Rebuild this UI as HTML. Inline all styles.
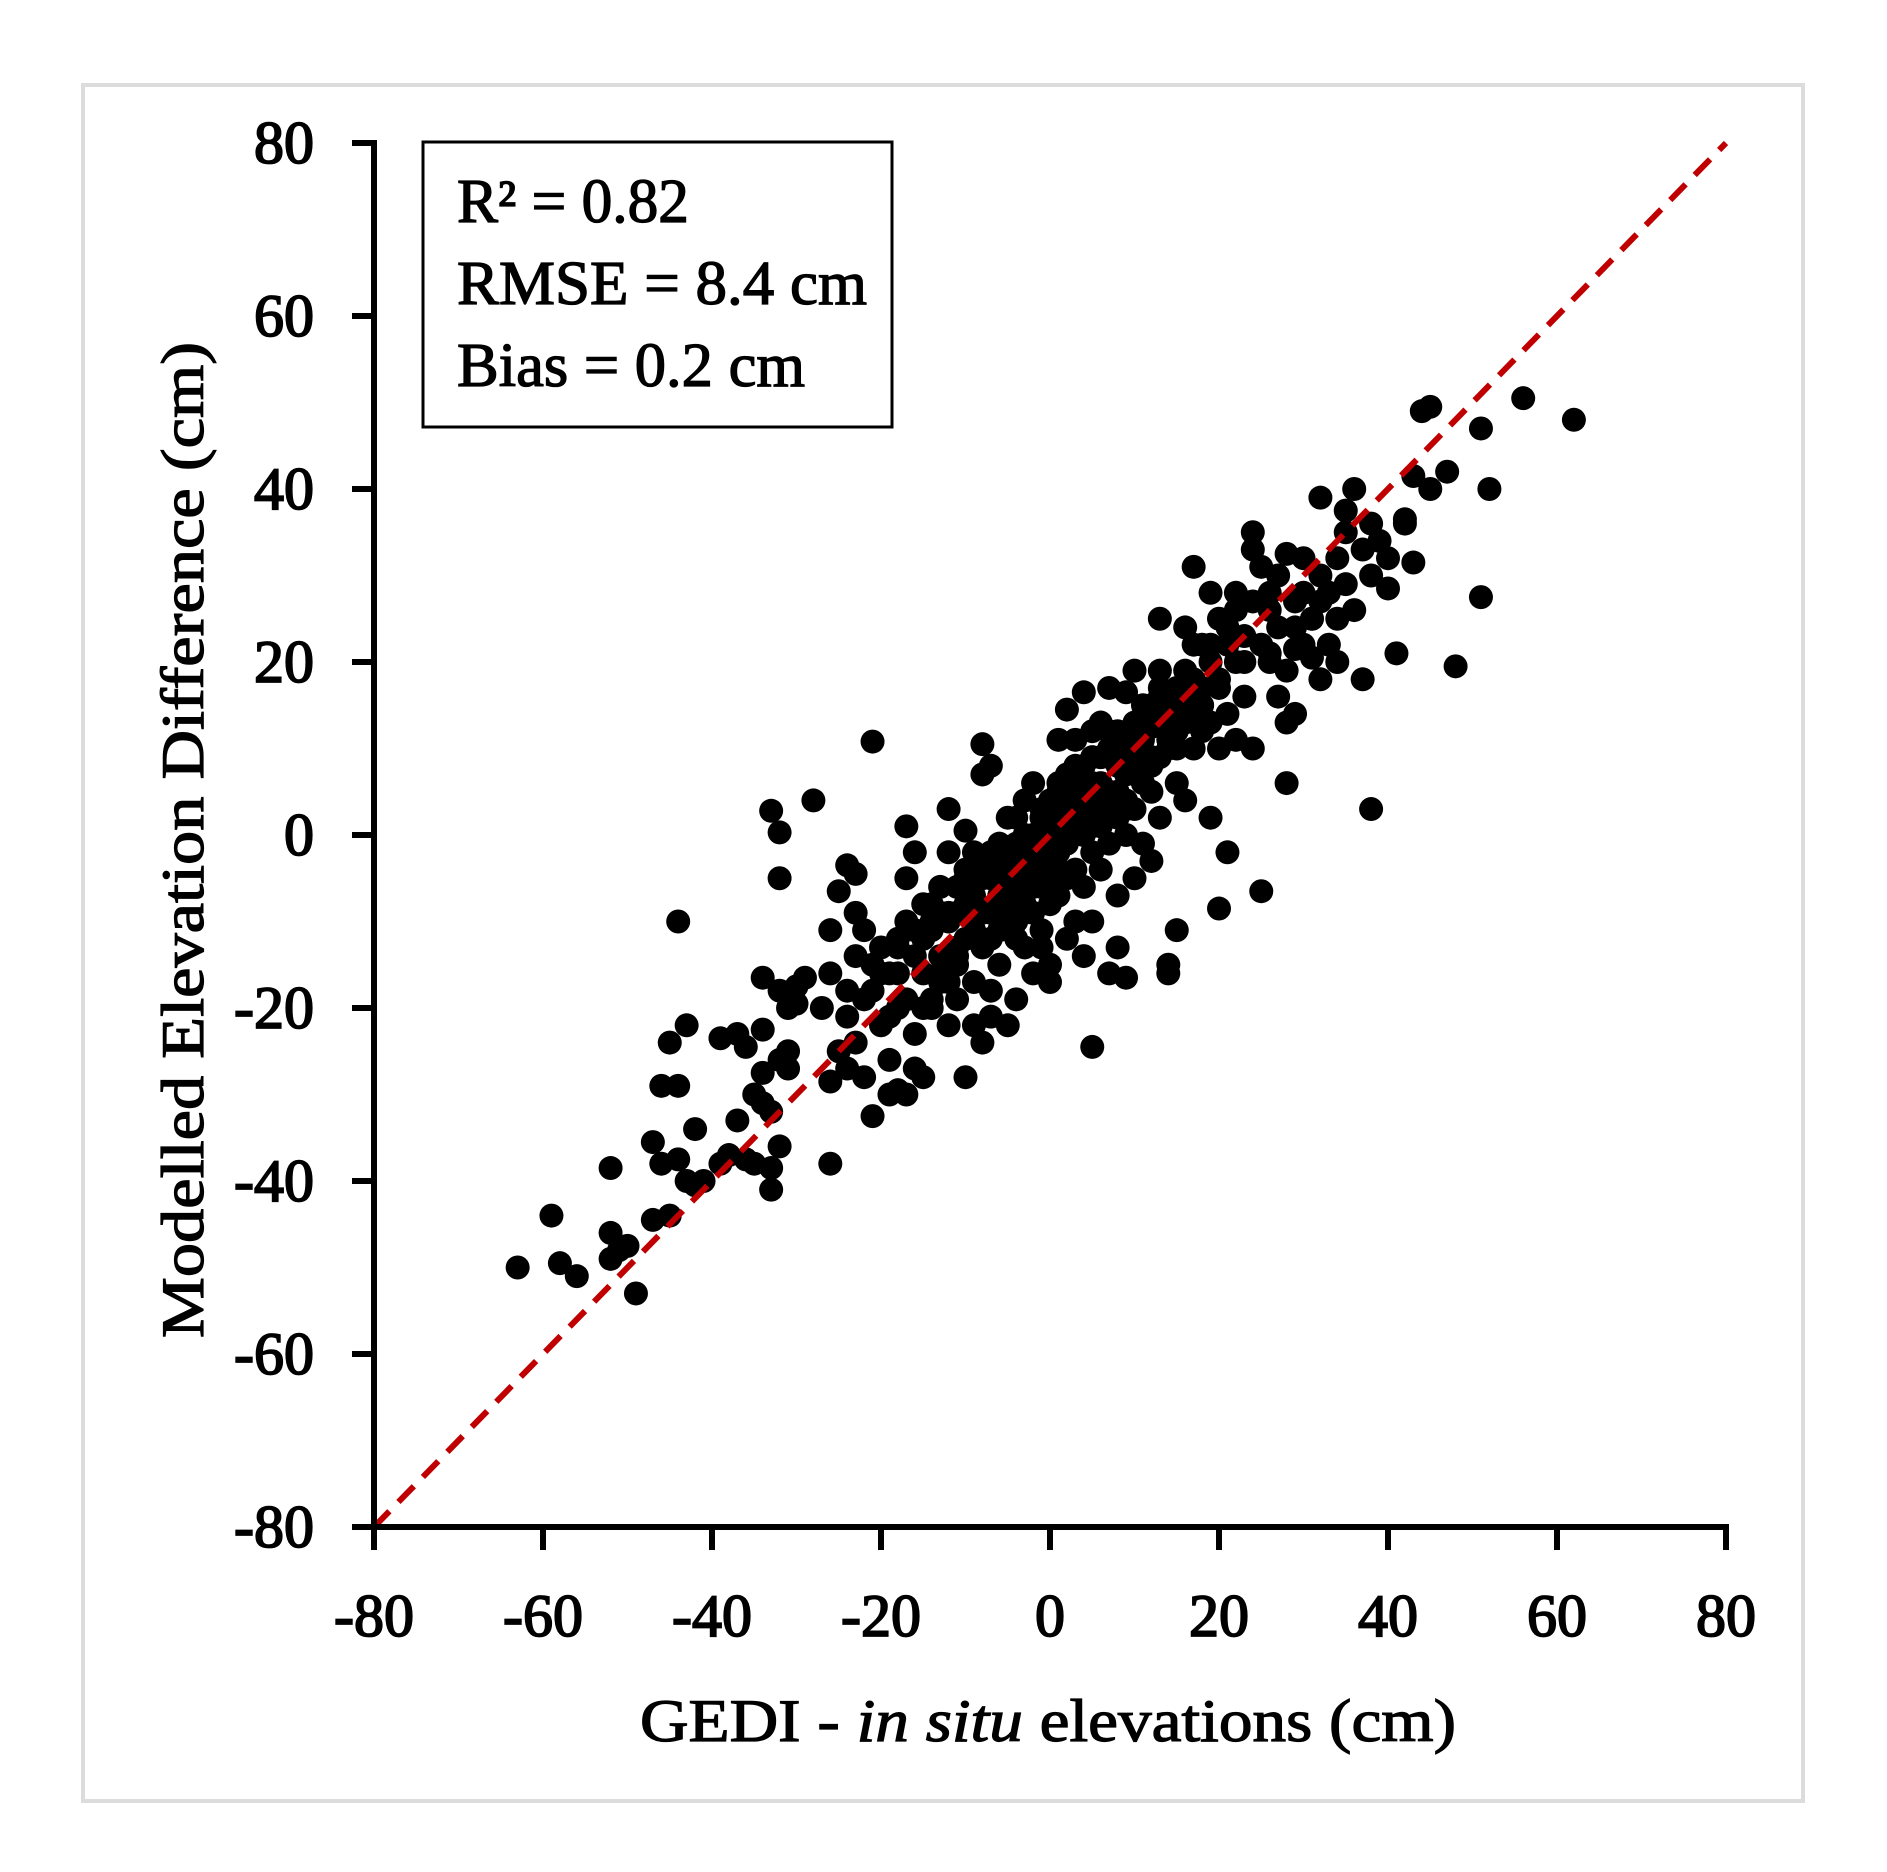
<!DOCTYPE html>
<html><head><meta charset="utf-8"><style>
html,body{margin:0;padding:0;background:#fff}
svg{display:block}
text{font-family:"Liberation Serif",serif;fill:#000}
</style></head><body>
<svg id="chart" width="1887" height="1872" viewBox="0 0 1887 1872" xmlns="http://www.w3.org/2000/svg">
<rect x="83" y="85" width="1720" height="1716" fill="#fff" stroke="#dcdcdc" stroke-width="4"/>
<g id="plot"></g>
<g>
<rect x="423" y="142" width="469" height="285" fill="#fff" stroke="#000" stroke-width="3"/>
<text x="457" y="222" font-size="62" stroke="#000" stroke-width="1.3" textLength="232" lengthAdjust="spacingAndGlyphs">R² = 0.82</text>
<text x="457" y="304" font-size="62" stroke="#000" stroke-width="1.3" textLength="410" lengthAdjust="spacingAndGlyphs">RMSE = 8.4 cm</text>
<text x="457" y="386" font-size="62" stroke="#000" stroke-width="1.3" textLength="348" lengthAdjust="spacingAndGlyphs">Bias = 0.2 cm</text>
</g>
<text x="1048" y="1741" font-size="60" stroke="#000" stroke-width="1.2" text-anchor="middle" textLength="816" lengthAdjust="spacingAndGlyphs">GEDI - <tspan font-style="italic">in situ</tspan> elevations (cm)</text>
<text x="0" y="0" font-size="60" stroke="#000" stroke-width="1.2" text-anchor="middle" textLength="996" lengthAdjust="spacingAndGlyphs" transform="translate(203,840) rotate(-90)">Modelled Elevation Difference (cm)</text>
</svg>
<script>
const xTicks = [-80,-60,-40,-20,0,20,40,60,80];
const yTicks = [-80,-60,-40,-20,0,20,40,60,80];
const xVals = [-63,-59,-58,-56,-52,-52,-52,-51,-50,-49,-47,-47,-46,-46,-45,-45,-44,-44,-44,-43,-43,-42,-42,-41,-39,-39,-38,-37,-37,-36,-36,-35,-35,-34,-34,-34,-34,-33,-33,-33,-33,-32,-32,-32,-32,-32,-31,-31,-31,-30,-30,-29,-28,-27,-26,-26,-26,-26,-25,-25,-24,-24,-24,-24,-23,-23,-23,-23,-22,-22,-22,-21,-21,-21,-20,-20,-19,-19,-18,-18,-18,-17,-17,-17,-17,-16,-16,-16,-15,-15,-15,-14,-14,-14,-13,-13,-12,-12,-12,-11,-11,-11,-10,-10,-10,-10,-9,-9,-9,-8,-8,-8,-8,-8,-7,-7,-7,-7,-6,-6,-6,-5,-5,-5,-5,-4,-4,-4,-3,-3,-3,-3,-2,-2,-2,-2,-1,-1,-1,-1,0,0,0,0,0,0,1,1,1,1,2,2,2,2,3,3,3,3,3,4,4,4,4,4,5,5,5,5,5,6,6,6,6,7,7,7,7,8,8,8,8,9,9,9,9,10,10,10,10,11,11,11,12,12,12,12,13,13,13,13,14,14,14,14,15,15,15,16,16,16,17,17,17,18,18,19,19,19,19,20,20,20,20,21,21,21,22,22,23,23,24,24,24,24,25,25,25,26,26,26,27,27,28,28,28,28,29,29,29,30,30,30,31,31,32,32,32,32,33,33,34,34,34,35,35,35,36,36,37,37,38,38,38,39,40,40,41,42,42,43,43,44,45,45,47,48,51,51,52,56,62,-19,-18,-16,-15,-14,-13,-12,-11,-10,-9,-8,-7,-6,-5,-4,-3,-2,-1,0,1,2,3,4,5,6,7,8,9,10,11,12,13,14,15,16,17,18,-20,-17,-13,-6,-4,1,6,9,11,2,-1,-9,-15,-7,-3,-18,-16,-14,-12,-11,-9,-8,-6,-5,-4,-3,-2,-1,0,1,2,3,4,5,6,7,8,10,11,12,13,14,15,16,17,18,19,20,21,22,23,-13,-11,-9,-7,-5,-3,-1,1,3,5,7,9,11,13,15,-10,-6,-2,2,6,10,14,18,22,26,27,29,31,33,-21,-19,-14,-12,-8,-4,0,4,8,12];
const yVals = [-50,-44,-49.5,-51,-38.5,-46,-49,-48,-47.5,-53,-35.5,-44.5,-38,-29,-24,-44,-29,-37.5,-10,-40,-22,-34,-40.5,-40,-38,-23.5,-37,-23,-33,-24.5,-37.5,-38,-30,-31,-22.5,-16.5,-27.5,-38.5,-41,-32,2.8,0.3,-5,-18,-26,-36,-20,-25,-27,-17.5,-19.5,-16.5,4,-20,-28.5,-38,-16,-11,-6.5,-25,-18,-21,-27,-3.5,-4.5,-9,-14,-24,-11,-19,-28,10.8,-32.5,-18,-22,-13,-26,-30,-29.5,-20,-16,1,-5,-10,-30,-23,-27,-2,-12,-16,-28,-8,-20,-19,-6,-14,3,-2,-22,-9,-15,-19,-28,-4,-12,0.5,-17,-8,-22,10.5,7,-5,-13,-24,8,-2,-18,-21,-11,-7,-15,-4,-22,2,-9,-1,-12,-19,0,-6,4,-13,-3,-9,-16,6,-1,2,-11,-6,1,4,-4,-8,-15,-17,11,-2,-7,3,7,-1,-12,14.5,2,-4,11,5,-10,16.5,8,0,-14,-6,-24.5,3,-2,12,-10,6,-4,1,13,17,9,-1,-16,12,-13,4,-7,-16.5,16.5,7,0,19,11,-5,3,15,8,-1,12.5,5,-3,14,25,19,9,2,-16,-15,15,11,17,-11,6,24,13,4,31,22,10,15,12,28,20,13,2,-8.5,25,17,10,-2,22,14,28,11,23,20,33,35,27,10,31,22,-6.5,26,21,28,24,16,6,32.5,13,19,27,14,21.5,32,22,28,25,20.5,39,30,18,27,22,28,32,25,20,37.5,35,29,40,26,18,33,3,36,30,34,28.5,32,21,36,36.5,31.5,41.5,49,49.5,40,42,19.5,47,27.5,40,50.5,48,-16,-13,-14,-8,-11,-16,-10,-6,-8,-11,-9,-5,-3,-6,-5,-2,0,-3,-1,0,3,1,4,6,4,5,8,10,8,11,9,13,12,14,16,18,17,-16,-19,-9,-1,2,5,9,4,6,-5,-13,-2,-20,-12,-9,-12,-11,-10,-9,-13,-7,-4,-8,-2,-7,-1,-4,3,-2,6,0,7,2,9,3,10,5,9,13,8,16,10,12,19,14,15,22,18,24,20,16,-17,-14,-11,-9,-3,-8,2,-4,8,1,12,3,6,17,10,-5,-9,-6,1,9,13,16,22,26,20,30,24,25,28,-15,-21,-10,-17,-3,-10,-5,6,2,15];
const X0=374, X1=1726, Y0=1527, Y1=143;
function sx(v){return X0+(v+80)/160*(X1-X0);}
function sy(v){return Y0-(v+80)/160*(Y0-Y1);}
const NS='http://www.w3.org/2000/svg';
const g=document.getElementById('plot');
function mk(tag,attrs,parent){const e=document.createElementNS(NS,tag);for(const k in attrs)e.setAttribute(k,attrs[k]);(parent||g).appendChild(e);return e;}
const pg=mk('g',{});


for(let i=0;i<xVals.length;i++){
  const c=mk('circle',{cx:sx(xVals[i]),cy:sy(yVals[i]),r:12,fill:'#000'},pg);
  
  
}
const ln=mk('line',{x1:sx(-80),y1:sy(-80),x2:sx(80),y2:sy(80),stroke:'#c00000','stroke-width':6,'stroke-dasharray':'22 13'});


const ya=mk('line',{x1:X0,y1:Y1-3,x2:X0,y2:Y0+3,stroke:'#000','stroke-width':6});


const xa=mk('line',{x1:X0-3,y1:Y0,x2:X1+3,y2:Y0,stroke:'#000','stroke-width':6});


for(const t of yTicks){
  const tk=mk('line',{x1:X0-22,y1:sy(t),x2:X0,y2:sy(t),stroke:'#000','stroke-width':6});
  
  
  const tx=mk('text',{x:314,y:sy(t)+20,'font-size':60,'text-anchor':'end',stroke:'#000','stroke-width':1.8});
  tx.textContent=String(t);
  
  
}
for(const t of xTicks){
  const tk=mk('line',{x1:sx(t),y1:Y0,x2:sx(t),y2:Y0+23,stroke:'#000','stroke-width':6});
  
  
  const tx=mk('text',{x:sx(t),y:1636,'font-size':60,'text-anchor':'middle',stroke:'#000','stroke-width':1.8});
  tx.textContent=String(t);
  
  
}
</script>
</body></html>
